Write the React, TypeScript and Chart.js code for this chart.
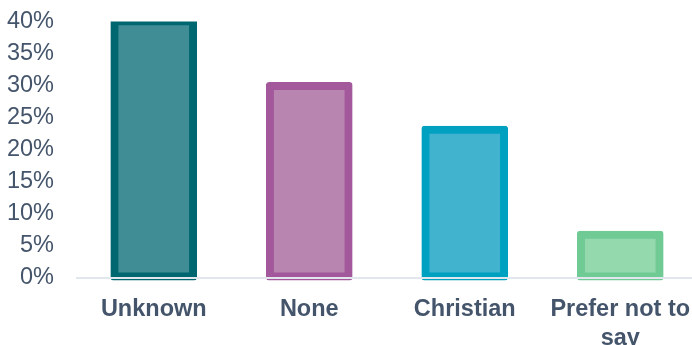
import React, { useEffect, useRef } from "react";
import { Chart, registerables } from "chart.js";

Chart.register(...registerables);

const categories: (string | string[])[] = ["Unknown", "None", "Christian", ["Prefer not to", "say"]];
const values: number[] = [40.6, 30.5, 23.7, 7.3];
const borderColors: string[] = ["#00666f", "#a3589b", "#00a0c0", "#70ca94"];
const fillColors: string[] = ["#418d96", "#b884b0", "#42b3cf", "#94d8ae"];
const yTicks: number[] = [0, 5, 10, 15, 20, 25, 30, 35, 40];
const yMax = 40;

const FONT = "'Liberation Sans', Arial, sans-serif";
const TEXT = "#44546a";

export default function App() {
  const ref = useRef<HTMLCanvasElement | null>(null);
  useEffect(() => {
    if (!ref.current) return;
    const base = -0.35;
    const chart = new Chart(ref.current, {
      type: "bar",
      data: {
        labels: categories,
        datasets: [
          {
            data: values,
            backgroundColor: fillColors,
            borderColor: borderColors,
            borderWidth: 8,
            borderSkipped: false,
            borderRadius: 3,
            barThickness: 86,
            base: base,
            clip: { top: 0, left: false, right: false, bottom: false } as any,
          } as any,
        ],
      },
      options: {
        responsive: false,
        animation: false,
        events: [],
        layout: { padding: { top: 21.5, right: 2, left: 0, bottom: 0 } },
        plugins: { legend: { display: false }, tooltip: { enabled: false } },
        scales: {
          x: {
            grid: { display: false },
            border: { display: false },
            ticks: {
              color: TEXT,
              padding: 7,
              maxRotation: 0,
              autoSkip: false,
              font: { family: FONT, size: 23.5, weight: "bold", lineHeight: 1.24 },
            },
            afterFit: (s: any) => {
              s.height = 64.8;
              s.paddingTop = 0;
              s.paddingBottom = 0;
              s.paddingLeft = 0;
              s.paddingRight = 0;
            },
          },
          y: {
            min: base,
            max: yMax,
            grid: {
              drawTicks: false,
              lineWidth: 2,
              z: 1,
              color: (c: any) => (c.tick && c.tick.value === 0 ? "#e2e7ee" : "rgba(0,0,0,0)"),
            },
            border: { display: false },
            afterBuildTicks: (s: any) => {
              s.ticks = yTicks.map((v) => ({ value: v }));
            },
            ticks: {
              padding: 22,
              autoSkip: false,
              color: TEXT,
              font: { family: FONT, size: 23.5, lineHeight: 1.2 },
              callback: (v: any) => `${v}%`,
            },
            afterFit: (s: any) => {
              s.width = 76;
              s.paddingTop = 0;
              s.paddingBottom = 0;
            },
          },
        },
      },
    });
    return () => chart.destroy();
  }, []);
  return (
    <div style={{ position: "fixed", left: 0, top: 0, width: 700, height: 345, background: "#fff" }}>
      <canvas ref={ref} width={700} height={345} />
    </div>
  );
}
